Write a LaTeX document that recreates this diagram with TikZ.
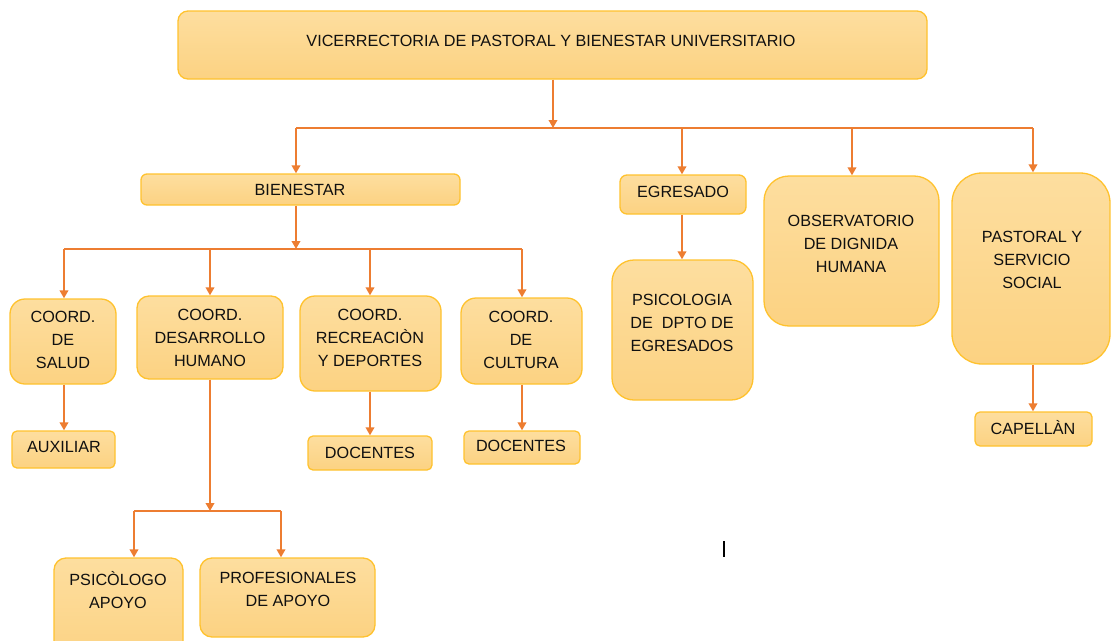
\documentclass[tikz,border=0pt]{standalone}
\usepackage{fontspec}
\setmainfont{Liberation Sans}
\usetikzlibrary{arrows.meta}
\definecolor{boxline}{HTML}{FFC22E}
\definecolor{boxtop}{HTML}{FDDE9F}
\definecolor{boxbot}{HTML}{FCD282}
\definecolor{arrc}{HTML}{ED7D31}
\definecolor{txtc}{HTML}{101010}
\tikzset{
  orgbox/.style={draw=boxline, line width=1.3pt, top color=boxtop, bottom color=boxbot, inner sep=0pt},
  orgtxt/.style={font=\fontsize{16.2}{23}\selectfont, text=txtc, align=center, inner sep=0pt},
  conn/.style={draw=arrc, line width=2.3pt},
  arr/.style={conn, -{Triangle[length=8pt,width=8.5pt]}}
}
% name, x1, y1, x2, y2, radius
\newcommand\orgbox[6]{%
  \node[orgbox, rounded corners=#6pt, minimum width={#4pt-#2pt}, minimum height={#5pt-#3pt}]
    (#1) at ({(#2+#4)/2},{(#3+#5)/2}) {};}
\begin{document}
\begin{tikzpicture}[x=1pt,y=-1pt]
\useasboundingbox (0,0) rectangle (1111,640);
% boxes
\orgbox{title}{178}{11}{927}{79}{10}
\orgbox{bien}{141}{174}{460}{205}{6}
\orgbox{egr}{620}{175}{746}{214}{7}
\orgbox{obs}{764}{176}{939}{326}{25}
\orgbox{past}{952}{173}{1110}{364}{30}
\orgbox{psic}{612}{260}{753}{400}{22}
\orgbox{cap}{975}{412}{1092}{446}{5}
\orgbox{salud}{10}{299}{116}{384}{15}
\orgbox{desa}{137}{296}{283}{379}{12}
\orgbox{recr}{300}{296}{441}{391}{15}
\orgbox{cult}{461}{298}{582}{384}{15}
\orgbox{aux}{12}{431}{115}{468}{5}
\orgbox{docA}{308}{436}{432}{470}{5}
\orgbox{docB}{464}{431}{580}{464}{5}
\orgbox{psg}{54}{558}{183}{665}{12}
\orgbox{prof}{200}{558}{375}{637}{12}
% texts
\node[orgtxt] (tTitle) at (551,41) {VICERRECTORIA DE PASTORAL Y BIENESTAR UNIVERSITARIO};
\node[orgtxt] (tBien) at (300,190) {BIENESTAR};
\node[orgtxt] (tEgr) at (683,192) {EGRESADO};
\node[orgtxt] (tObs) at (851,244) {OBSERVATORIO\\DE DIGNIDA\\HUMANA};
\node[orgtxt] (tPast) at (1032,260) {PASTORAL Y\\SERVICIO\\SOCIAL};
\node[orgtxt] (tPsic) at (682,323) {PSICOLOGIA\\DE\ \ DPTO DE\\EGRESADOS};
\node[orgtxt] (tCap) at (1033,428) {CAPELLÀN};
\node[orgtxt] (tSalud) at (63,340) {COORD.\\DE\\SALUD};
\node[orgtxt] (tDesa) at (210,338) {COORD.\\DESARROLLO\\HUMANO};
\node[orgtxt] (tRecr) at (370,338) {COORD.\\RECREACIÒN\\Y DEPORTES};
\node[orgtxt] (tCult) at (521,340) {COORD.\\DE\\CULTURA};
\node[orgtxt] (tAux) at (64,447) {AUXILIAR};
\node[orgtxt] (tDocA) at (370,453) {DOCENTES};
\node[orgtxt] (tDocB) at (521,446) {DOCENTES};
\node[orgtxt] (tPsg) at (118,590) {PSICÒLOGO\\APOYO};
\node[orgtxt] (tProf) at (288,589) {PROFESIONALES\\DE APOYO};
% top bus
\coordinate (busA) at (553,128);
\coordinate (dBien) at (296,128);
\coordinate (dEgr) at (682,128);
\coordinate (dObs) at (852,128);
\coordinate (dPast) at (1033,128);
\draw[conn] (dBien) -- (dPast);
\draw[arr] (busA |- title.south) -- (busA);
\draw[arr] (dBien) -- (dBien |- bien.north);
\draw[arr] (dEgr) -- (dEgr |- egr.north);
\draw[arr] (dObs) -- (dObs |- obs.north);
\draw[arr] (dPast) -- (dPast |- past.north);
% bienestar bus
\coordinate (busB) at (296,249);
\coordinate (dSalud) at (64,249);
\coordinate (dDesa) at (210,249);
\coordinate (dRecr) at (370,249);
\coordinate (dCult) at (522,249);
\draw[conn] (dSalud) -- (dCult);
\draw[arr] (busB |- bien.south) -- (busB);
\draw[arr] (dSalud) -- (dSalud |- salud.north);
\draw[arr] (dDesa) -- (dDesa |- desa.north);
\draw[arr] (dRecr) -- (dRecr |- recr.north);
\draw[arr] (dCult) -- (dCult |- cult.north);
% single links
\draw[arr] (dSalud |- salud.south) -- (dSalud |- aux.north);
\draw[arr] (dRecr |- recr.south) -- (dRecr |- docA.north);
\draw[arr] (dCult |- cult.south) -- (dCult |- docB.north);
\draw[arr] (dEgr |- egr.south) -- (dEgr |- psic.north);
\draw[arr] (dPast |- past.south) -- (dPast |- cap.north);
% desarrollo bus
\coordinate (busC) at (210,511);
\coordinate (dPsg) at (134,511);
\coordinate (dProf) at (281,511);
\draw[conn] (dPsg) -- (dProf);
\draw[arr] (busC |- desa.south) -- (busC);
\draw[arr] (dPsg) -- (dPsg |- psg.north);
\draw[arr] (dProf) -- (dProf |- prof.north);
% stray cursor mark
\coordinate (curA) at (724,541);
\coordinate (curB) at (724,557);
\draw[line width=1.2pt, black] (curA) -- (curB);
\end{tikzpicture}
\end{document}
